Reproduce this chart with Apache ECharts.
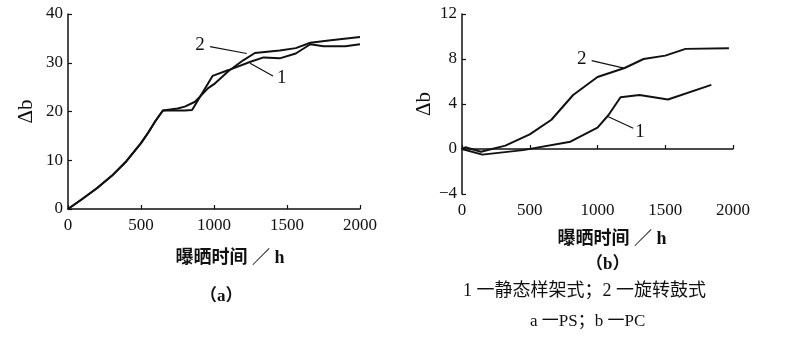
<!DOCTYPE html>
<html>
<head>
<meta charset="utf-8">
<script src="https://cdn.jsdelivr.net/npm/echarts@6/dist/echarts.min.js"></script>
<style>
  html, body { margin: 0; padding: 0; background: #fff; }
  #chart { width: 800px; height: 339px; }
</style>
</head>
<body>
<div id="chart"></div>
<script>
// (a) PS — colour change Δb against exposure time (h)
const psStaticTime = [0, 100, 200, 300, 400, 500, 550, 600, 650, 700, 800, 850, 990, 1100, 1250, 1340, 1450, 1560, 1660, 1750, 1900, 2000];
const psStaticDb   = [0, 2.1, 4.3, 6.8, 9.8, 13.5, 15.7, 18.1, 20.2, 20.2, 20.2, 20.3, 27.3, 28.5, 30.2, 31.1, 30.9, 31.9, 33.8, 33.4, 33.4, 33.8];
const psDrumTime   = [0, 100, 200, 300, 400, 500, 550, 600, 650, 750, 800, 870, 960, 1000, 1100, 1200, 1280, 1450, 1560, 1660, 1800, 2000];
const psDrumDb     = [0, 2.1, 4.3, 6.8, 9.8, 13.5, 15.7, 18.1, 20.2, 20.6, 21.0, 22.0, 24.8, 25.6, 28.3, 30.5, 32.0, 32.5, 33.0, 34.1, 34.6, 35.3];

// (b) PC
const pcStaticTime = [0, 150, 450, 800, 1000, 1080, 1170, 1310, 1520, 1840];
const pcStaticDb   = [0, -0.5, -0.1, 0.65, 1.9, 3.0, 4.6, 4.8, 4.4, 5.7];
const pcDrumTime   = [0, 25, 140, 320, 500, 660, 820, 1000, 1200, 1340, 1500, 1650, 1970];
const pcDrumDb     = [0, 0.15, -0.25, 0.3, 1.3, 2.6, 4.8, 6.4, 7.2, 8.0, 8.3, 8.9, 8.95];

const xTicks = { min: 0, max: 2000, interval: 500 };
const yTicksA = { min: 0, max: 40, interval: 10 };
const yTicksB = { min: -4, max: 12, interval: 4 };

const xName = '曝晒时间 ／ h';
const yName = 'Δb';
const legendLine1 = '1 一静态样架式；2 一旋转鼓式';
const legendLine2 = 'a 一PS；b 一PC';

const ink = '#111';
const serif = '"Liberation Serif", "Noto Sans CJK SC", serif';

function pairs(xs, ys) { return xs.map((x, i) => [x, ys[i]]); }

function xAxisFor(grid, pad, gap) {
  return {
    type: 'value', gridIndex: grid, min: xTicks.min, max: xTicks.max, interval: xTicks.interval,
    name: xName, nameLocation: 'middle', nameGap: gap,
    nameTextStyle: { color: ink, fontSize: 18, fontWeight: 'bold', fontFamily: serif, padding: [0, 0, 0, pad] },
    axisLine: { show: true, lineStyle: { color: ink, width: 1.5 } },
    axisTick: { show: true, inside: true, length: 4, lineStyle: { color: ink, width: 1.2 } },
    axisLabel: { color: ink, fontSize: 17, fontFamily: serif, margin: 8, formatter: v => String(v) },
    splitLine: { show: false }
  };
}
function yAxisFor(grid, t, gap) {
  return {
    type: 'value', gridIndex: grid, min: t.min, max: t.max, interval: t.interval,
    name: yName, nameLocation: 'middle', nameGap: gap, nameRotate: 90,
    nameTextStyle: { color: ink, fontSize: 21, fontFamily: serif },
    axisLine: { show: true, onZero: false, lineStyle: { color: ink, width: 1.5 } },
    axisTick: { show: true, inside: true, length: 4, lineStyle: { color: ink, width: 1.2 } },
    axisLabel: { color: ink, fontSize: 17, fontFamily: serif, margin: 5,
                 formatter: v => String(v).replace('-', '−') },
    splitLine: { show: false }
  };
}

function curve(xi, yi, data, tag) {
  return {
    type: 'line', xAxisIndex: xi, yAxisIndex: yi, data: data,
    showSymbol: false, symbol: 'none', smooth: false,
    lineStyle: { color: ink, width: 2 },
    animation: false,
    markLine: {
      silent: true, symbol: 'none', animation: false,
      lineStyle: { color: ink, width: 1.2, type: 'solid' },
      label: { show: false },
      data: [[{ coord: tag.from }, { coord: tag.to }]]
    },
    markPoint: {
      silent: true, symbol: 'circle', symbolSize: 0, animation: false,
      label: { show: true, position: 'inside', color: ink, fontSize: 19, fontFamily: serif, formatter: tag.text },
      data: [{ coord: tag.at }]
    }
  };
}

const chart = echarts.init(document.getElementById('chart'), null, { renderer: 'canvas' });
chart.setOption({
  backgroundColor: '#fff',
  animation: false,
  grid: [
    { left: 68, right: 440, top: 14, bottom: 130 },
    { left: 462, right: 67, top: 14, bottom: 145 }
  ],
  xAxis: [xAxisFor(0, 32, 40), xAxisFor(1, 29, 36)],
  yAxis: [yAxisFor(0, yTicksA, 31), yAxisFor(1, yTicksB, 26)],
  series: [
    curve(0, 0, pairs(psStaticTime, psStaticDb), { from: [1404, 27.3], to: [1247, 29.9], at: [1464, 26.8], text: '1' }),
    curve(0, 0, pairs(psDrumTime, psDrumDb),     { from: [973, 33.3],  to: [1224, 31.9], at: [904, 33.6],  text: '2' }),
    curve(1, 1, pairs(pcStaticTime, pcStaticDb), { from: [1264, 1.84], to: [1080, 2.87], at: [1314, 1.54], text: '1' }),
    curve(1, 1, pairs(pcDrumTime, pcDrumDb),     { from: [957, 7.85],  to: [1203, 7.17], at: [883, 7.97],  text: '2' })
  ],
  graphic: [
    { type: 'text', left: 200, top: 288, style: { text: '（a）', fill: ink, font: 'bold 17px ' + serif } },
    { type: 'text', left: 586, top: 256, style: { text: '（b）', fill: ink, font: 'bold 17px ' + serif } },
    { type: 'text', left: 463, top: 282, style: { text: legendLine1, fill: ink, font: '18px ' + serif } },
    { type: 'text', left: 530, top: 313, style: { text: legendLine2, fill: ink, font: '17px ' + serif } }
  ]
});
</script>
</body>
</html>
